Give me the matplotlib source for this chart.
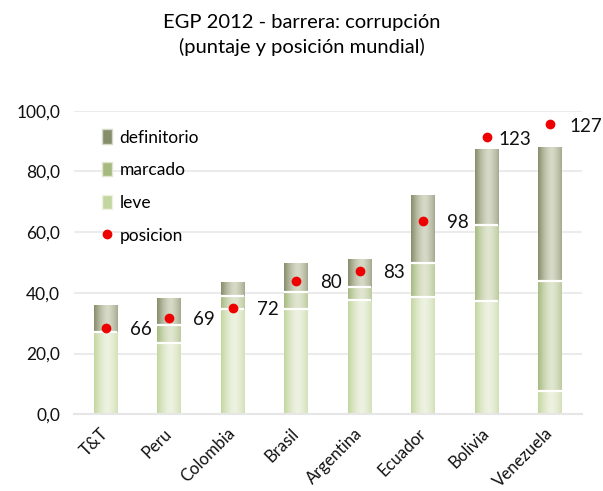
import numpy as np
import matplotlib.pyplot as plt
from matplotlib.colors import to_rgb
from matplotlib.patches import Patch
from matplotlib.lines import Line2D

plt.rcParams['font.family'] = ['Lato', 'DejaVu Sans']

# data
paises = ["T&T", "Peru", "Colombia", "Brasil", "Argentina", "Ecuador", "Bolivia", "Venezuela"]
leve = [27.2, 23.5, 34.8, 34.7, 37.8, 38.7, 37.4, 7.8]
marcado = [0.0, 5.8, 4.2, 5.6, 4.1, 11.1, 25.0, 36.1]
definitorio = [8.8, 8.6, 4.3, 9.5, 9.0, 22.1, 24.9, 43.9]
posicion = [66, 69, 72, 80, 83, 98, 123, 127]

# colours (edge, centre) for the gradient bars
colores = {
    "leve": ("#c4d69f", "#edf2e1"),
    "marcado": ("#a6ba7f", "#e0e6d0"),
    "definitorio": ("#858d6b", "#d6d9c6"),
}


def gradiente(edge, centre, n=64):
    t = np.linspace(-1, 1, n)
    w = 1 - np.abs((t - 0.15) / 1.15) ** 1.6
    e = np.array(to_rgb(edge))
    c = np.array(to_rgb(centre))
    return (e[None, :] + (c - e)[None, :] * w[:, None])[None, :, :]


fig = plt.figure(figsize=(6.03, 4.91), dpi=100)
ax = fig.add_axes([0.1227, 0.1562, 0.8420, 0.6183])

ancho = 0.37
x = np.arange(len(paises))
base = np.zeros(len(paises))
for nombre, serie in [("leve", leve), ("marcado", marcado), ("definitorio", definitorio)]:
    img = gradiente(*colores[nombre])
    for i, v in enumerate(serie):
        if v <= 0:
            continue
        ax.imshow(img, extent=(x[i] - ancho / 2, x[i] + ancho / 2, base[i], base[i] + v),
                  aspect='auto', zorder=2, interpolation='bilinear')
        if base[i] > 0:
            ax.plot([x[i] - ancho / 2, x[i] + ancho / 2], [base[i], base[i]],
                    color='white', lw=1.6, zorder=3, solid_capstyle='butt')
    base = base + np.array(serie)

ax.set_xlim(-0.5, len(paises) - 0.5)
ax.set_ylim(0, 100)
ax.set_yticks(np.arange(0, 101, 20))
ax.set_yticklabels([f"{v:.1f}".replace(".", ",") for v in range(0, 101, 20)])
ax.grid(axis='y', color='#ebebeb', lw=1.5, zorder=0)
ax.set_axisbelow(True)
for s in ['top', 'right', 'left']:
    ax.spines[s].set_visible(False)
ax.spines['bottom'].set_color('#e6e6e6')
ax.spines['bottom'].set_linewidth(1.5)
ax.tick_params(axis='both', length=0, labelsize=12.5, colors='#111111')
ax.tick_params(axis='y', pad=10)
ax.set_xticks(x)
ax.set_xticklabels(paises, rotation=45, ha='right', va='center', rotation_mode='anchor')
ax.tick_params(axis='x', pad=12, labelsize=12)

# position on a hidden secondary axis
ax2 = ax.twinx()
ax2.set_ylim(40, 131)
ax2.axis('off')
ax2.scatter(x, posicion, s=36, color='#ee0000', zorder=5)
desplaz = [24, 24, 24, 24, 24, 24, 12, 19]
for i, p in enumerate(posicion):
    ax2.annotate(str(p), (x[i], p), xytext=(desplaz[i], -2), textcoords='offset pixels',
                 ha='left', va='center', fontsize=13.5, color='#111111')

handles = [
    Patch(facecolor=colores["definitorio"][0], edgecolor=colores["definitorio"][1]),
    Patch(facecolor=colores["marcado"][0], edgecolor=colores["marcado"][1]),
    Patch(facecolor=colores["leve"][0], edgecolor=colores["leve"][1]),
    Line2D([], [], marker='o', ls='', color='#ee0000', markersize=6),
]
ax.legend(handles, ["definitorio", "marcado", "leve", "posicion"], loc='upper left',
          bbox_to_anchor=(0.025, 0.99), frameon=False, fontsize=12.5, labelspacing=0.95,
          handlelength=0.55, handleheight=0.9, handletextpad=0.45)

fig.text(0.5, 0.955, "EGP 2012 - barrera: corrupción", ha='center', va='center', fontsize=14.5)
fig.text(0.5, 0.905, "(puntaje y posición mundial)", ha='center', va='center', fontsize=14.5)

fig.savefig("out.png", dpi=100)
